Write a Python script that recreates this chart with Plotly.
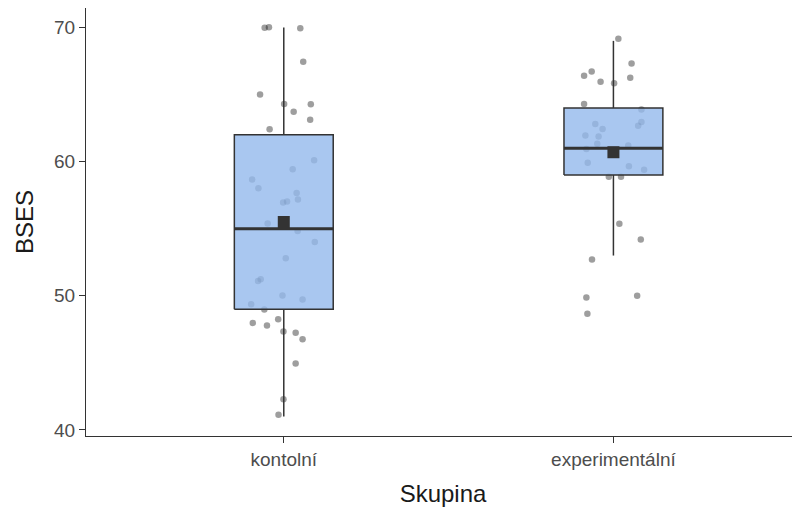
import plotly.graph_objects as go

# ---- data ----
groups = ["kontolní", "experimentální"]
group_pos = [1, 2]

kont_y = [69.98, 70.02, 69.95, 67.45, 65.01, 64.29, 64.27, 63.72, 63.13, 62.41,
          60.10, 59.43, 58.66, 58.01, 57.66, 57.17, 56.95, 57.02, 55.38, 54.83,
          54.01, 52.80, 51.11, 51.24, 50.02, 49.72, 49.37, 48.98, 47.98, 47.79,
          48.26, 47.34, 47.24, 46.77, 44.96, 42.28, 41.13]
kont_jit = [-0.058, -0.045, 0.050, 0.059, -0.072, 0.001, 0.082, 0.030, 0.080, -0.043,
            0.092, 0.027, -0.096, -0.077, 0.039, 0.043, -0.002, 0.010, -0.049, 0.042,
            0.094, 0.006, -0.078, -0.070, -0.004, 0.057, -0.099, -0.059, -0.094, -0.051,
            -0.017, -0.001, 0.036, 0.057, 0.036, -0.001, -0.016]

exp_y = [69.16, 67.32, 66.72, 66.40, 65.96, 65.85, 66.25, 64.29, 63.89, 62.80,
         62.43, 62.95, 62.68, 61.94, 61.88, 61.33, 61.21, 60.95, 59.91, 59.65,
         59.40, 58.87, 58.87, 55.37, 54.20, 52.71, 49.87, 50.01, 48.67]
exp_jit = [0.015, 0.055, -0.066, -0.089, -0.039, 0.002, 0.051, -0.089, 0.085, -0.055,
           -0.033, 0.085, 0.075, -0.085, -0.045, -0.049, 0.045, -0.082, -0.078, 0.047,
           0.093, -0.014, 0.023, 0.018, 0.083, -0.065, -0.082, 0.072, -0.079]

# box statistics
q1 = [49, 59]
median = [55, 61]
q3 = [62, 64]
lower = [41, 53]
upper = [70, 69]
means = [55.5, 60.7]

y_ticks = [40, 50, 60, 70]

BOX_W = 0.3
DARK = "#333333"
fig = go.Figure()

# jittered points (drawn beneath the boxes)
for pos, ys, jit in [(1, kont_y, kont_jit), (2, exp_y, exp_jit)]:
    fig.add_trace(go.Scatter(
        x=[pos + j for j in jit], y=ys, mode="markers",
        marker=dict(size=6.5, color="rgba(0,0,0,0.38)", line=dict(width=0)),
        showlegend=False, hoverinfo="skip"))

for i, pos in enumerate(group_pos):
    # whiskers
    fig.add_trace(go.Scatter(
        x=[pos, pos, None, pos, pos],
        y=[lower[i], q1[i], None, q3[i], upper[i]],
        mode="lines", line=dict(color=DARK, width=1.5),
        showlegend=False, hoverinfo="skip"))
    # box body (semi-transparent fill over the points)
    l, r = pos - BOX_W / 2, pos + BOX_W / 2
    fig.add_trace(go.Scatter(
        x=[l, r, r, l, l], y=[q1[i], q1[i], q3[i], q3[i], q1[i]],
        mode="lines", fill="toself", fillcolor="rgba(148,185,236,0.8)",
        line=dict(color=DARK, width=1.5),
        showlegend=False, hoverinfo="skip"))
    # median
    fig.add_trace(go.Scatter(
        x=[l, r], y=[median[i], median[i]],
        mode="lines", line=dict(color=DARK, width=3),
        showlegend=False, hoverinfo="skip"))

# mean markers
fig.add_trace(go.Scatter(
    x=group_pos, y=means, mode="markers",
    marker=dict(symbol="square", size=12, color=DARK, line=dict(width=0)),
    showlegend=False, hoverinfo="skip"))

# page body has an 8px default margin, so compensate in the figure margins
fig.update_layout(
    width=800, height=508,
    margin=dict(l=78, r=8, t=0, b=80),
    paper_bgcolor="white", plot_bgcolor="white",
    font=dict(family="Liberation Sans, Arial, sans-serif"),
)
fig.update_xaxes(
    range=[0.4, 2.566], tickvals=group_pos, ticktext=groups,
    showline=True, linecolor=DARK, linewidth=1.2,
    ticks="outside", ticklen=6, tickcolor=DARK, tickwidth=1.2,
    tickfont=dict(size=19, color="#4d4d4d"),
    showgrid=False, zeroline=False, automargin=False,
    title=dict(text="Skupina", font=dict(size=24, color="#1a1a1a"), standoff=16),
)
fig.update_yaxes(
    range=[39.55, 71.45], tickvals=y_ticks,
    showline=True, linecolor=DARK, linewidth=1.2,
    ticks="outside", ticklen=6, tickcolor=DARK, tickwidth=1.2,
    tickfont=dict(size=19, color="#4d4d4d"),
    showgrid=False, zeroline=False, automargin=False,
    title=dict(text="BSES", font=dict(size=24, color="#1a1a1a"), standoff=13),
)

fig.write_html("out.html")
